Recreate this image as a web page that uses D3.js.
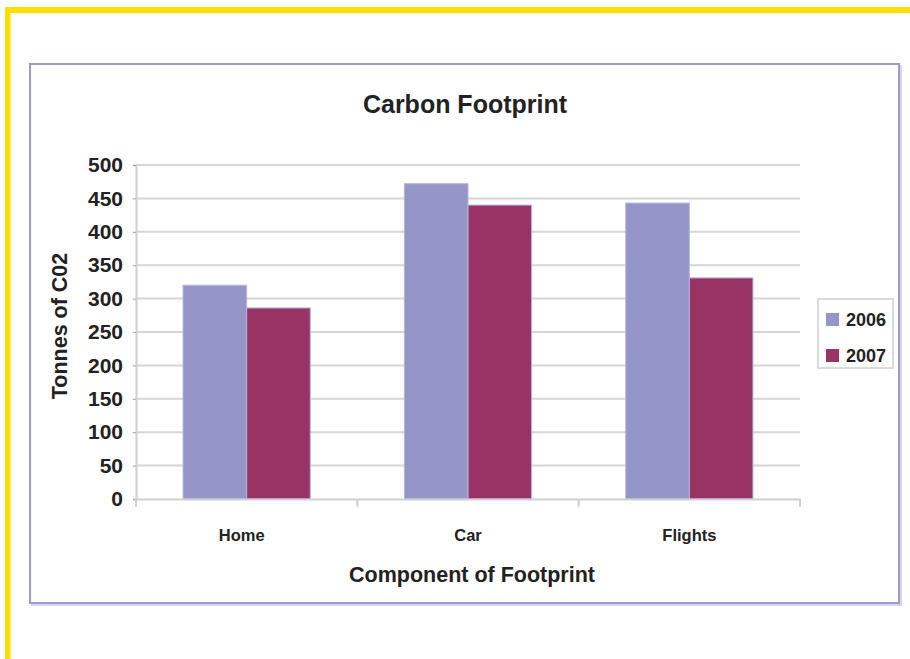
<!DOCTYPE html>
<html>
<head>
<meta charset="utf-8">
<script src="https://cdn.jsdelivr.net/npm/d3@7"></script>
<style>
  body { margin: 0; background: #fff; }
  text { font-family: "Liberation Sans", Arial, sans-serif; font-weight: bold; fill: #222; }
</style>
</head>
<body>
<div id="chart"></div>
<script>
// data
const categories = ["Home", "Car", "Flights"];
const years = ["2006", "2007"];
const values2006 = [320, 472, 443];
const values2007 = [286, 440, 331];
const yTicks = [0, 50, 100, 150, 200, 250, 300, 350, 400, 450, 500];

const WIDTH = 910, HEIGHT = 659;
const PLOT = {left: 136, right: 800, top: 165, bottom: 499};
const COLORS = {"2006": "#9595c8", "2007": "#993366"};

var svg = d3.select("#chart").append("svg")
    .attr("width", WIDTH)
    .attr("height", HEIGHT);

// yellow page frame (top and left only)
svg.append("rect").attr("x", 5).attr("y", 7).attr("width", WIDTH).attr("height", 6).attr("fill", "#ffdf00");
svg.append("rect").attr("x", 5).attr("y", 7).attr("width", 5.5).attr("height", HEIGHT).attr("fill", "#ffdf00");

// chart box with light shadow
svg.append("rect").attr("x", 32).attr("y", 66).attr("width", 869).attr("height", 539)
    .attr("fill", "none").attr("stroke", "#d4d4ea").attr("stroke-width", 2);
svg.append("rect").attr("x", 30).attr("y", 64).attr("width", 869).attr("height", 539)
    .attr("fill", "#fff").attr("stroke", "#9c9cca").attr("stroke-width", 2);

var y = d3.scaleLinear().domain([0, 500]).range([PLOT.bottom, PLOT.top]);
var x0 = d3.scaleBand().domain(categories).range([PLOT.left, PLOT.right]).padding(0);
var x1 = d3.scaleBand().domain(years).range([0, x0.bandwidth()]).paddingInner(0).paddingOuter(0.74);

// gridlines
svg.append("g").selectAll("line").data(yTicks.slice(1)).enter().append("line")
    .attr("x1", PLOT.left).attr("x2", PLOT.right)
    .attr("y1", d => y(d)).attr("y2", d => y(d))
    .attr("stroke", "#d6d6d6").attr("stroke-width", 2);

// bars
var rows = categories.map((c, i) => ({cat: c, vals: [
    {year: "2006", v: values2006[i]},
    {year: "2007", v: values2007[i]}
]}));

svg.append("g").selectAll("g").data(rows).enter().append("g")
    .attr("transform", d => "translate(" + x0(d.cat) + ",0)")
    .selectAll("rect").data(d => d.vals).enter().append("rect")
    .attr("x", d => x1(d.year))
    .attr("y", d => y(d.v))
    .attr("width", x1.bandwidth())
    .attr("height", d => y(0) - y(d.v))
    .attr("fill", d => COLORS[d.year])
    .attr("stroke", "#b4b4e0").attr("stroke-width", 1);

// y axis
var yAxis = svg.append("g")
    .attr("transform", "translate(" + PLOT.left + ",0)")
    .call(d3.axisLeft(y).tickValues(yTicks).tickSize(3).tickPadding(10));
yAxis.select(".domain").attr("stroke", "#d0d0d0").attr("stroke-width", 2);
yAxis.selectAll(".tick line").attr("stroke", "#9c9cd6");
yAxis.selectAll(".tick text").attr("font-size", 21).attr("fill", "#222")
    .attr("font-family", "Liberation Sans, Arial, sans-serif").attr("font-weight", "bold");

// x axis
var xAxis = svg.append("g")
    .attr("transform", "translate(0," + PLOT.bottom + ")")
    .call(d3.axisBottom(x0).tickSize(0).tickPadding(30));
xAxis.select(".domain").attr("stroke", "#d0d0d0").attr("stroke-width", 2);
xAxis.selectAll(".tick text").attr("font-size", 16.5).attr("fill", "#222")
    .attr("font-family", "Liberation Sans, Arial, sans-serif").attr("font-weight", "bold");
// Excel nudged the first label a little to the left
xAxis.selectAll(".tick text").filter(d => d === "Home").attr("dx", -5);
var bounds = categories.map(c => x0(c)).concat([PLOT.right]);
svg.append("g").selectAll("line").data(bounds).enter().append("line")
    .attr("x1", d => d).attr("x2", d => d)
    .attr("y1", PLOT.bottom).attr("y2", PLOT.bottom + 8)
    .attr("stroke", "#d0d0d0").attr("stroke-width", 2);

// titles
svg.append("text").attr("x", 465).attr("y", 113).attr("text-anchor", "middle")
    .attr("font-size", 25).text("Carbon Footprint");
svg.append("text").attr("transform", "translate(67,326) rotate(-90)").attr("text-anchor", "middle")
    .attr("font-size", 21.5).text("Tonnes of C02");
svg.append("text").attr("x", 472).attr("y", 582).attr("text-anchor", "middle")
    .attr("font-size", 21.5).text("Component of Footprint");

// legend
var legend = svg.append("g");
legend.append("rect").attr("x", 818).attr("y", 299).attr("width", 75).attr("height", 69)
    .attr("fill", "#fff").attr("stroke", "#d0d0d0").attr("stroke-width", 1.5);
var item = legend.selectAll("g.item").data(years).enter().append("g")
    .attr("class", "item")
    .attr("transform", (d, i) => "translate(826," + (313 + i * 36) + ")");
item.append("rect").attr("width", 13).attr("height", 13).attr("fill", d => COLORS[d]);
item.append("text").attr("x", 20).attr("y", 12.5).attr("font-size", 18).text(d => d);
</script>
</body>
</html>
